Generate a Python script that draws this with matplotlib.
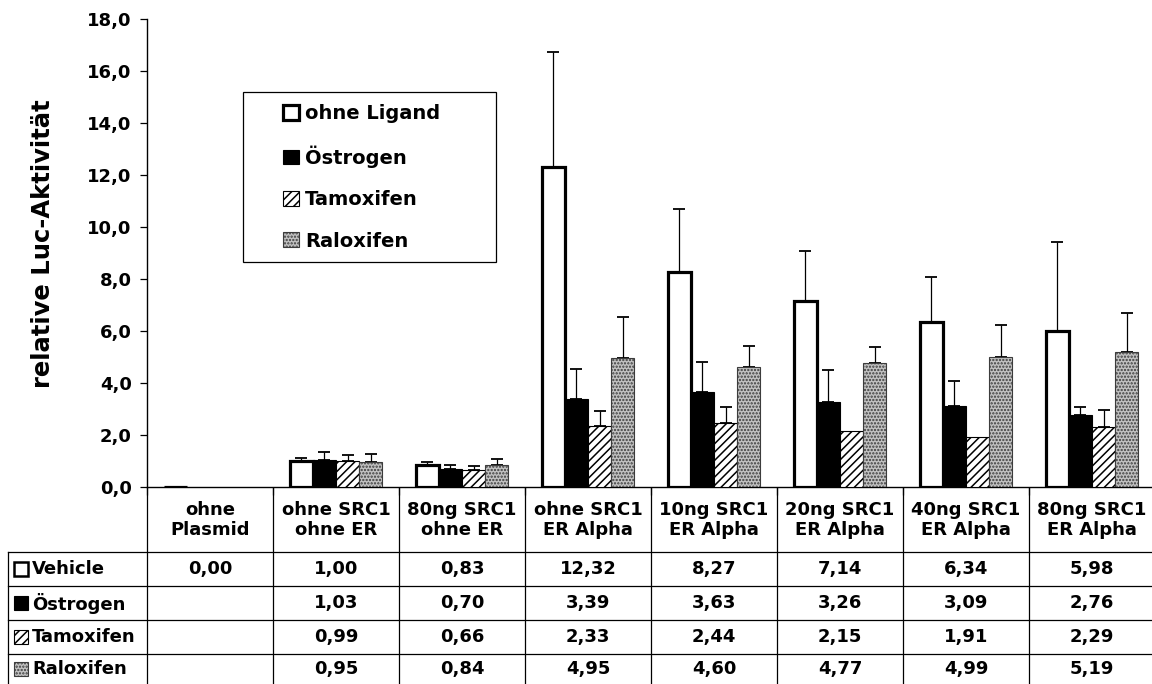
import numpy as np
import matplotlib
matplotlib.use("Agg")
import matplotlib.pyplot as plt
from matplotlib import transforms
from matplotlib.lines import Line2D
from matplotlib.patches import Rectangle
from matplotlib.ticker import FixedLocator, FuncFormatter

# ---- data -----------------------------------------------------------------
categories = [
    "ohne\nPlasmid", "ohne SRC1\nohne ER", "80ng SRC1\nohne ER",
    "ohne SRC1\nER Alpha", "10ng SRC1\nER Alpha", "20ng SRC1\nER Alpha",
    "40ng SRC1\nER Alpha", "80ng SRC1\nER Alpha",
]
legend_labels = ["ohne Ligand", "Östrogen", "Tamoxifen", "Raloxifen"]
row_labels = ["Vehicle", "Östrogen", "Tamoxifen", "Raloxifen"]

vehicle = [0.00, 1.00, 0.83, 12.32, 8.27, 7.14, 6.34, 5.98]
oestrogen = [np.nan, 1.03, 0.70, 3.39, 3.63, 3.26, 3.09, 2.76]
tamoxifen = [np.nan, 0.99, 0.66, 2.33, 2.44, 2.15, 1.91, 2.29]
raloxifen = [np.nan, 0.95, 0.84, 4.95, 4.60, 4.77, 4.99, 5.19]

err_vehicle = [0.00, 0.12, 0.13, 4.43, 2.41, 1.95, 1.75, 3.43]
err_oestrogen = [0.00, 0.29, 0.14, 1.15, 1.18, 1.25, 0.97, 0.30]
err_tamoxifen = [0.00, 0.22, 0.15, 0.57, 0.64, 0.00, 0.00, 0.66]
err_raloxifen = [0.00, 0.30, 0.21, 1.60, 0.83, 0.60, 1.24, 1.49]

y_ticks = [0, 2, 4, 6, 8, 10, 12, 14, 16, 18]
y_label = "relative Luc-Aktivität"

series = [vehicle, oestrogen, tamoxifen, raloxifen]
errors = [err_vehicle, err_oestrogen, err_tamoxifen, err_raloxifen]

# ---- styling ---------------------------------------------------------------
plt.rcParams["font.family"] = ["DejaVu Sans"]
plt.rcParams["font.weight"] = "bold"
plt.rcParams["hatch.linewidth"] = 1.1

styles = [
    dict(facecolor="white", edgecolor="black", linewidth=2.3),
    dict(facecolor="black", edgecolor="black", linewidth=0.8),
    dict(facecolor="white", edgecolor="black", linewidth=0.8, hatch="////"),
    dict(facecolor="#c2c2c2", edgecolor="#3c3c3c", linewidth=0.8, hatch="....."),
]

W, H = 1152, 684
fig = plt.figure(figsize=(W / 100, H / 100), dpi=100)


def px_rect(left, top, right, bottom):
    return [left / W, 1 - bottom / H, (right - left) / W, (bottom - top) / H]


AX_L, AX_R, AX_T, AX_B = 147, 1155, 19.3, 486.7
ax = fig.add_axes(px_rect(AX_L, AX_T, AX_R, AX_B))

n = len(categories)
x = np.arange(n)
bar_w = 0.183

handles = []
for i, (vals, errs, st, lab) in enumerate(zip(series, errors, styles, legend_labels)):
    pos = x + (i - 1.5) * bar_w
    vals = np.asarray(vals, dtype=float)
    errs = np.asarray(errs, dtype=float)
    cont = ax.bar(pos, vals, bar_w, label=lab, zorder=3, **st)
    handles.append(cont)
    show = (~np.isnan(vals)) & (errs > 0)
    ax.errorbar(pos[show], vals[show], yerr=[np.zeros(show.sum()), errs[show]],
                fmt="none", ecolor="black", elinewidth=0.9, capsize=4,
                capthick=1.3, zorder=2)

ax.set_xlim(-0.5, n - 0.5)
ax.set_ylim(0, 18)
ax.xaxis.set_major_locator(FixedLocator(np.arange(-0.5, n, 1.0)))
ax.tick_params(axis="x", direction="out", length=6, width=0.9, labelbottom=False)
ax.set_yticks(y_ticks)
ax.yaxis.set_major_formatter(FuncFormatter(lambda v, p: f"{v:.1f}".replace(".", ",")))
ax.tick_params(axis="y", direction="out", length=5, width=0.9, pad=6,
               labelsize=13)
for lbl in ax.get_yticklabels():
    lbl.set_fontweight("bold")
for s in ("top", "right"):
    ax.spines[s].set_visible(False)
for s in ("left", "bottom"):
    ax.spines[s].set_linewidth(1.0)
    ax.spines[s].set_color("black")

fig.text(43 / W, 1 - 244 / H, y_label, rotation=90, ha="center", va="center",
         fontsize=17.5, fontweight="bold")

# ---- legend ---------------------------------------------------------------
ax.legend(handles=handles, labels=legend_labels, frameon=False, loc="upper left",
          bbox_to_anchor=(283 / W, 1 - 104 / H), bbox_transform=fig.transFigure,
          borderpad=0, borderaxespad=0, handlelength=0.8, handleheight=0.8,
          handletextpad=0.35, labelspacing=1.15,
          prop=dict(size=14, weight="bold"))
fig.add_artist(Rectangle((243 / W, 1 - 262 / H), (496 - 243) / W, (262 - 92) / H,
                         transform=fig.transFigure, fill=False,
                         edgecolor="black", linewidth=0.9))

# ---- data table -----------------------------------------------------------
ax_t = fig.add_axes(px_rect(0, AX_B, W, H))
ax_t.set_xlim(0, W)
ax_t.set_ylim(H, AX_B)
ax_t.set_autoscale_on(False)
ax_t.axis("off")
col_tr = transforms.blended_transform_factory(ax.transData, ax_t.transData)

header_bottom = 552
row_edges = [552, 586, 620, 654, 688]
table_left = 8
line_kw = dict(color="black", linewidth=0.9)

for b in np.arange(-0.5, n, 1.0):
    ax_t.add_line(Line2D([b, b], [AX_B, H], transform=col_tr, **line_kw))
ax_t.add_line(Line2D([table_left, table_left], [header_bottom, H], **line_kw))
for yy in row_edges[:-1]:
    ax_t.add_line(Line2D([table_left, W], [yy, yy], **line_kw))

for j, cat in enumerate(categories):
    ax_t.text(j, (AX_B + header_bottom) / 2 + 1, cat, transform=col_tr,
              ha="center", va="center", fontsize=13, fontweight="bold",
              linespacing=1.15)

for r, (vals, lab, st) in enumerate(zip(series, row_labels, styles)):
    yc = (row_edges[r] + row_edges[r + 1]) / 2 + (0 if r < 3 else -2)
    for j, v in enumerate(vals):
        if np.isnan(v):
            continue
        ax_t.text(j, yc, f"{v:.2f}".replace(".", ","), transform=col_tr,
                  ha="center", va="center", fontsize=13, fontweight="bold")
    mk = dict(st)
    if r == 0:
        mk["linewidth"] = 1.8
    ax_t.add_patch(Rectangle((14, yc - 7), 14, 14, **mk))
    ax_t.text(32, yc, lab, ha="left", va="center", fontsize=13,
              fontweight="bold")

fig.savefig("out.png", dpi=100)
